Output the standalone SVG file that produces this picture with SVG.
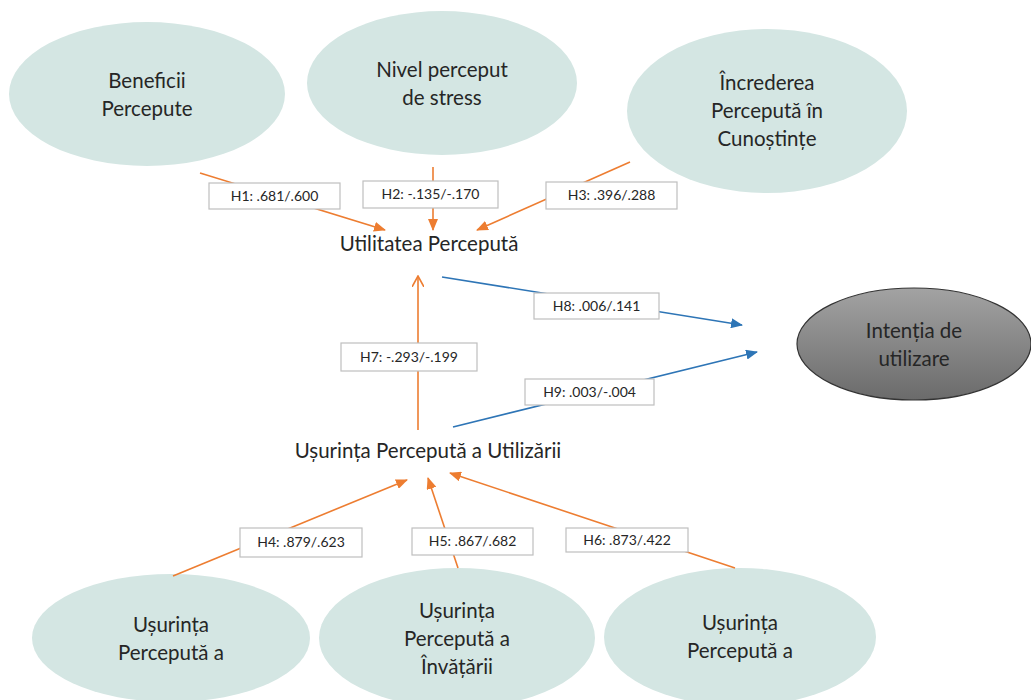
<svg xmlns="http://www.w3.org/2000/svg" width="1031" height="700" viewBox="0 0 1031 700">
<style>
.n{fill:#d4e6e3}
.t{font-family:Lato,"Open Sans",sans-serif;font-size:20.5px;fill:#262626;text-anchor:middle}
.lt{font-family:Lato,"Open Sans",sans-serif;font-size:20.5px;fill:#262626;text-anchor:middle}
.o{stroke:#ed7d31;stroke-width:1.6;fill:none}
.b{stroke:#2e75b6;stroke-width:1.6;fill:none}
.lb{fill:#fff;stroke:#bfbfbf;stroke-width:1.2}
.l{font-family:Lato,"Open Sans",sans-serif;font-size:14px;fill:#262626;text-anchor:middle}
</style>
<defs>
<marker id="ao" viewBox="0 0 12 10" refX="11" refY="5" markerWidth="12" markerHeight="10" markerUnits="userSpaceOnUse" orient="auto"><path d="M0,0 L12,5 L0,10 z" fill="#ed7d31"/></marker>
<marker id="ab" viewBox="0 0 12 10" refX="11" refY="5" markerWidth="12" markerHeight="10" markerUnits="userSpaceOnUse" orient="auto"><path d="M0,0 L12,5 L0,10 z" fill="#2e75b6"/></marker>
<marker id="av" viewBox="0 0 12 12" refX="11" refY="6" markerWidth="12" markerHeight="12" markerUnits="userSpaceOnUse" orient="auto"><path d="M0,0 L11,6 L0,12" fill="none" stroke="#ed7d31" stroke-width="1.6"/></marker>
<linearGradient id="g" x1="0" y1="0" x2="0" y2="1"><stop offset="0" stop-color="#a3a3a3"/><stop offset="1" stop-color="#6b6b6b"/></linearGradient>
</defs>
<g id="n1"><ellipse class="n" cx="147" cy="94" rx="138" ry="72"/><text class="t" x="147" y="88">Beneficii</text><text class="t" x="147" y="116">Percepute</text></g>
<g id="n2"><ellipse class="n" cx="442" cy="83" rx="135" ry="72"/><text class="t" x="442" y="77">Nivel perceput</text><text class="t" x="442" y="105">de stress</text></g>
<g id="n3"><ellipse class="n" cx="767" cy="111" rx="140" ry="82"/><text class="t" x="767" y="90">Încrederea</text><text class="t" x="767" y="118">Percepută în</text><text class="t" x="767" y="146">Cunoștințe</text></g>
<g id="n4"><ellipse cx="914" cy="344" rx="117" ry="56" fill="url(#g)" stroke="#333" stroke-width="1.2"/><text class="t" x="914" y="338">Intenția de</text><text class="t" x="914" y="366">utilizare</text></g>
<g id="n5"><ellipse class="n" cx="171" cy="638" rx="139" ry="64"/><text class="t" x="171" y="632">Ușurința</text><text class="t" x="171" y="660">Percepută a</text></g>
<g id="n6"><ellipse class="n" cx="457" cy="638" rx="138" ry="70"/><text class="t" x="457" y="618">Ușurința</text><text class="t" x="457" y="646">Percepută a</text><text class="t" x="457" y="674">Învățării</text></g>
<g id="n7"><ellipse class="n" cx="740" cy="637" rx="136" ry="69"/><text class="t" x="740" y="630">Ușurința</text><text class="t" x="740" y="658">Percepută a</text></g>
<g id="u1"><text class="lt" x="429" y="251">Utilitatea Percepută</text></g>
<g id="u2"><text class="lt" x="428" y="458">Ușurința Percepută a Utilizării</text></g>
<g id="connectors">
<line class="o" x1="200" y1="173" x2="385" y2="230" marker-end="url(#ao)"/>
<line class="o" x1="433" y1="167" x2="433" y2="230" marker-end="url(#ao)"/>
<line class="o" x1="630" y1="162" x2="477" y2="230" marker-end="url(#ao)"/>
<line class="o" x1="418" y1="430" x2="418" y2="276" marker-end="url(#av)"/>
<line class="b" x1="442" y1="277" x2="742" y2="325" marker-end="url(#ab)"/>
<line class="b" x1="453" y1="427" x2="757" y2="352" marker-end="url(#ab)"/>
<line class="o" x1="173" y1="576" x2="407" y2="480" marker-end="url(#ao)"/>
<line class="o" x1="458" y1="568" x2="428" y2="478" marker-end="url(#ao)"/>
<line class="o" x1="735" y1="568" x2="450" y2="473" marker-end="url(#ao)"/>
<rect class="lb" x="209" y="183" width="131" height="26"/><text class="l" x="274.5" y="201">H1: .681/.600</text>
<rect class="lb" x="363" y="181" width="135" height="27"/><text class="l" x="430.5" y="199">H2: -.135/-.170</text>
<rect class="lb" x="546" y="182" width="131" height="27"/><text class="l" x="611.5" y="200">H3: .396/.288</text>
<rect class="lb" x="341" y="343" width="136" height="28"/><text class="l" x="409" y="362">H7: -.293/-.199</text>
<rect class="lb" x="534" y="293" width="125" height="26"/><text class="l" x="596.5" y="311">H8: .006/.141</text>
<rect class="lb" x="525" y="379" width="129" height="26"/><text class="l" x="589.5" y="397">H9: .003/-.004</text>
<rect class="lb" x="240" y="528" width="122" height="29"/><text class="l" x="301" y="547">H4: .879/.623</text>
<rect class="lb" x="412" y="528" width="121" height="27"/><text class="l" x="472.5" y="546">H5: .867/.682</text>
<rect class="lb" x="566" y="528" width="122" height="24"/><text class="l" x="627" y="545">H6: .873/.422</text>
</g>
</svg>
